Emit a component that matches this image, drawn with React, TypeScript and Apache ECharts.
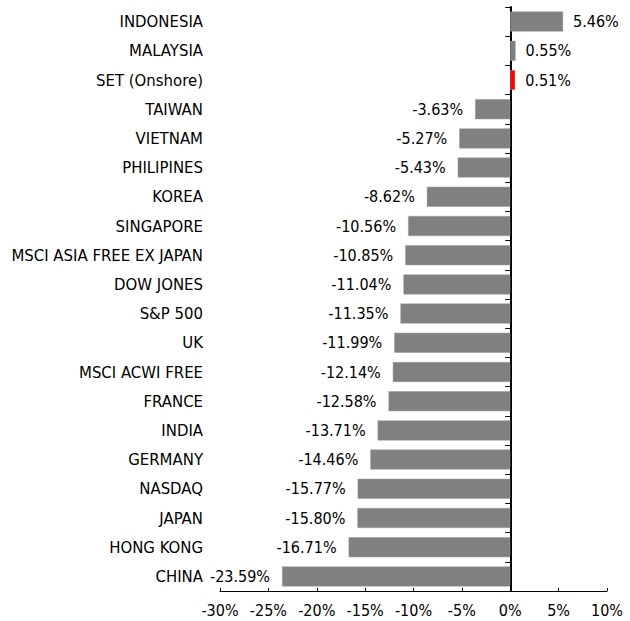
import React, { useEffect, useRef } from "react";
import * as echarts from "echarts";

const categories = [
  "INDONESIA",
  "MALAYSIA",
  "SET (Onshore)",
  "TAIWAN",
  "VIETNAM",
  "PHILIPINES",
  "KOREA",
  "SINGAPORE",
  "MSCI ASIA FREE EX JAPAN",
  "DOW JONES",
  "S&P 500",
  "UK",
  "MSCI ACWI FREE",
  "FRANCE",
  "INDIA",
  "GERMANY",
  "NASDAQ",
  "JAPAN",
  "HONG KONG",
  "CHINA",
];

const values = [
  5.46, 0.55, 0.51, -3.63, -5.27, -5.43, -8.62, -10.56, -10.85, -11.04, -11.35,
  -11.99, -12.14, -12.58, -13.71, -14.46, -15.77, -15.8, -16.71, -23.59,
];

const highlighted = ["SET (Onshore)"];

const FONT = "'DejaVu Sans Condensed', 'DejaVu Sans', sans-serif";

export default function App() {
  const ref = useRef<HTMLDivElement>(null);
  useEffect(() => {
    if (!ref.current) return;
    document.body.style.margin = "0";
    const chart = echarts.init(ref.current, undefined, { renderer: "svg" });
    const data = values.map((v, i) => ({
      value: v,
      itemStyle: {
        color: highlighted.includes(categories[i]) ? "#ff0000" : "#808080",
      },
      label: {
        position: v < 0 ? "left" : "right",
        distance: v < 0 ? 12 : 10,
      },
    }));
    chart.setOption({
      animation: false,
      grid: {
        left: 220,
        right: 23,
        top: 7,
        bottom: 30,
        containLabel: false,
        outerBoundsMode: "none",
      },
      xAxis: {
        type: "value",
        min: -30,
        max: 10,
        interval: 5,
        splitLine: { show: false },
        axisLine: { show: true, lineStyle: { color: "#000", width: 1 } },
        axisTick: { show: true, inside: true, length: 3, lineStyle: { color: "#000" } },
        axisLabel: {
          formatter: "{value}%",
          color: "#000",
          fontSize: 16,
          fontFamily: FONT,
          margin: 11,
        },
      },
      yAxis: {
        type: "category",
        inverse: true,
        data: categories,
        axisLine: { show: true, onZero: true, lineStyle: { color: "#000", width: 2 } },
        axisTick: { show: true, length: 5, lineStyle: { color: "#000" } },
        axisLabel: {
          color: "#000",
          fontSize: 16.6,
          fontFamily: FONT,
          margin: 17,
          interval: 0,
        },
      },
      series: [
        {
          type: "bar",
          data,
          barWidth: 20,
          itemStyle: { borderColor: "#9a9a9a", borderWidth: 0.5 },
          label: {
            show: true,
            color: "#000",
            fontSize: 16,
            fontFamily: FONT,
            formatter: (p: any) => p.value.toFixed(2) + "%",
          },
        },
      ],
    });
    return () => chart.dispose();
  }, []);
  return <div ref={ref} style={{ width: 630, height: 621 }} />;
}
